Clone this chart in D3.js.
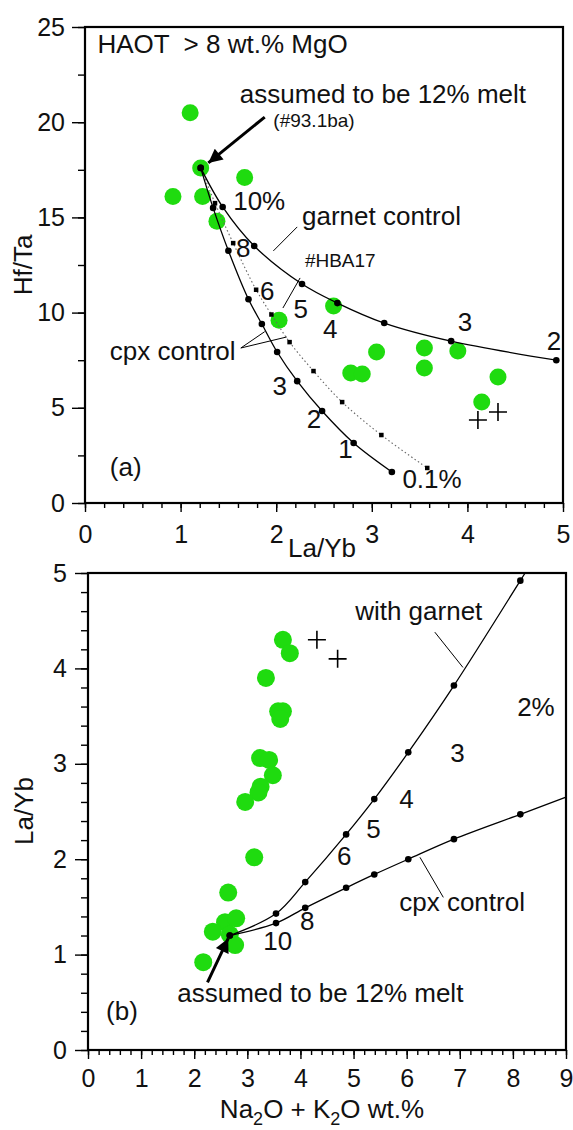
<!DOCTYPE html>
<html>
<head>
<meta charset="utf-8">
<script src="https://cdn.jsdelivr.net/npm/d3@7"></script>
<style>
    body { margin: 0; background: #fff; }
    svg text { font-family: "Liberation Sans", Arial, Helvetica, sans-serif; fill: #111; white-space: pre; }
</style>
</head>
<body>
<div id="chart"></div>
<script>

// (a) Hf/Ta vs La/Yb
var hfTaSamples = [
    [1.10, 20.5], [1.21, 17.6], [1.67, 17.1], [0.92, 16.1], [1.23, 16.1], [1.38, 14.8],
    [2.03, 9.6], [2.60, 10.35], [3.05, 7.93], [2.78, 6.83], [2.90, 6.78],
    [3.55, 8.14], [3.55, 7.09], [3.90, 7.98], [4.32, 6.62], [4.15, 5.3]
];
var hfTaPlus = [[4.11, 4.36], [4.32, 4.78]];

var garnetA = [
    [1.21, 17.6], [1.44, 15.55], [1.77, 13.5], [2.27, 11.5], [2.64, 10.5],
    [3.13, 9.45], [3.83, 8.5], [4.93, 7.5]
];
var cpxA = [
    [1.21, 17.6], [1.34, 15.5], [1.50, 13.25], [1.71, 10.7], [1.85, 9.4],
    [2.01, 7.93], [2.22, 6.4], [2.48, 4.83], [2.81, 3.15], [3.21, 1.63]
];
var cpxDottedA = [
    [1.21, 17.6], [1.36, 15.75], [1.55, 13.65], [1.79, 11.2], [1.95, 9.9],
    [2.14, 8.45], [2.39, 6.93], [2.69, 5.3], [3.10, 3.57], [3.58, 1.84]
];

// (b) La/Yb vs Na2O + K2O
var laYbSamples = [
    [3.67, 4.30], [3.80, 4.16], [3.35, 3.90], [3.58, 3.55], [3.67, 3.55], [3.62, 3.47],
    [3.24, 3.06], [3.41, 3.04], [3.48, 2.88], [3.25, 2.76], [3.21, 2.70], [2.96, 2.60],
    [3.13, 2.02], [2.64, 1.65], [2.58, 1.34], [2.79, 1.38], [2.35, 1.24],
    [2.67, 1.21], [2.77, 1.10], [2.17, 0.92]
];
var laYbPlus = [[4.31, 4.30], [4.70, 4.10]];

var garnetB = [
    [2.67, 1.20], [3.54, 1.43], [4.09, 1.76], [4.86, 2.26], [5.39, 2.63],
    [6.03, 3.12], [6.89, 3.82], [8.14, 4.92]
];
var garnetBEnd = [8.23, 5.0];
var cpxB = [
    [2.67, 1.20], [3.54, 1.33], [4.09, 1.49], [4.86, 1.70], [5.39, 1.84],
    [6.03, 2.00], [6.89, 2.21], [8.14, 2.47]
];
var cpxBEnd = [9.0, 2.65];

var xTicksA = [0, 1, 2, 3, 4, 5];
var yTicksA = [0, 5, 10, 15, 20, 25];
var xTicksB = [0, 1, 2, 3, 4, 5, 6, 7, 8, 9];
var yTicksB = [0, 1, 2, 3, 4, 5];

var green = "#1fdb0f";

var svg = d3.select("#chart")
    .append("svg")
    .attr("width", 573)
    .attr("height", 1130);

var defs = svg.append("defs");
defs.append("marker")
    .attr("id", "arrowhead")
    .attr("viewBox", "0 0 10 10")
    .attr("refX", 10)
    .attr("refY", 5)
    .attr("markerUnits", "userSpaceOnUse")
    .attr("markerWidth", 22)
    .attr("markerHeight", 14)
    .attr("orient", "auto")
    .append("path")
    .attr("d", "M0,0 L10,5 L0,10 Z")
    .attr("fill", "#000");

var xA = d3.scaleLinear().domain([0, 5]).range([85, 563]);
var yA = d3.scaleLinear().domain([0, 25]).range([503, 27]);
var xB = d3.scaleLinear().domain([0, 9]).range([88, 566]);
var yB = d3.scaleLinear().domain([0, 5]).range([1050, 573]);

var line = function(x, y){
    return d3.line()
        .x(function(d){ return x(d[0]); })
        .y(function(d){ return y(d[1]); })
        .curve(d3.curveCatmullRom.alpha(0.5));
};

function drawAxes(g, x, y, xTicks, yTicks, xMinor, yMinor, yPad){
    var xMin = x.domain()[0], xMax = x.domain()[1];
    var yMin = y.domain()[0], yMax = y.domain()[1];

    // minor ticks
    g.append("g")
        .attr("transform", "translate(0," + y(yMin) + ")")
        .call(d3.axisBottom(x).tickValues(d3.range(xMin, xMax + 1e-9, xMinor)).tickSize(5).tickFormat(""))
        .call(function(a){ a.select(".domain").remove(); });
    g.append("g")
        .attr("transform", "translate(" + x(xMin) + ",0)")
        .call(d3.axisLeft(y).tickValues(d3.range(yMin, yMax + 1e-9, yMinor)).tickSize(7).tickFormat(""))
        .call(function(a){ a.select(".domain").remove(); });

    // major ticks
    g.append("g")
        .attr("class", "x-axis")
        .attr("transform", "translate(0," + y(yMin) + ")")
        .call(d3.axisBottom(x).tickValues(xTicks).tickSize(9).tickPadding(xPadFor(y)).tickFormat(d3.format("d")))
        .call(function(a){ a.select(".domain").remove(); });
    g.append("g")
        .attr("class", "y-axis")
        .attr("transform", "translate(" + x(xMin) + ",0)")
        .call(d3.axisLeft(y).tickValues(yTicks).tickSize(13).tickPadding(yPad).tickFormat(d3.format("d")))
        .call(function(a){ a.select(".domain").remove(); });

    g.selectAll(".tick line").attr("stroke", "#000").attr("stroke-width", 1.4);
    g.selectAll(".tick text").attr("font-size", 25).attr("fill", "#111")
        .style("font-family", "'Liberation Sans', Arial, sans-serif");

    g.append("rect")
        .attr("x", x(xMin))
        .attr("y", y(yMax))
        .attr("width", x(xMax) - x(xMin))
        .attr("height", y(yMin) - y(yMax))
        .attr("fill", "none")
        .attr("stroke", "#000")
        .attr("stroke-width", 2.2);
}

function xPadFor(y){
    return y === yA ? 13 : 10;
}

function label(g, x, y, txt, px, py, size, anchor){
    return g.append("text")
        .attr("x", x(px))
        .attr("y", y(py))
        .attr("font-size", size || 26)
        .attr("text-anchor", anchor || "start")
        .text(txt);
}

function leader(g, x, y, p0, p1, width){
    g.append("line")
        .attr("x1", x(p0[0])).attr("y1", y(p0[1]))
        .attr("x2", x(p1[0])).attr("y2", y(p1[1]))
        .attr("stroke", "#000")
        .attr("stroke-width", width || 1);
}

function arrow(g, x, y, p0, p1){
    g.append("line")
        .attr("x1", x(p0[0])).attr("y1", y(p0[1]))
        .attr("x2", x(p1[0])).attr("y2", y(p1[1]))
        .attr("stroke", "#000")
        .attr("stroke-width", 3)
        .attr("marker-end", "url(#arrowhead)");
}

function plus(g, x, y, data){
    var s = 9;
    data.forEach(function(d){
        g.append("path")
            .attr("d", "M" + (x(d[0]) - s) + "," + y(d[1]) + "h" + (2 * s) +
                "M" + x(d[0]) + "," + (y(d[1]) - s) + "v" + (2 * s))
            .attr("stroke", "#000")
            .attr("stroke-width", 1.6)
            .attr("fill", "none");
    });
}

function dots(g, x, y, data, r, fill){
    g.selectAll(null)
        .data(data)
        .enter()
        .append("circle")
        .attr("cx", function(d){ return x(d[0]); })
        .attr("cy", function(d){ return y(d[1]); })
        .attr("r", r)
        .attr("fill", fill);
}

function squares(g, x, y, data, s){
    g.selectAll(null)
        .data(data)
        .enter()
        .append("rect")
        .attr("x", function(d){ return x(d[0]) - s / 2; })
        .attr("y", function(d){ return y(d[1]) - s / 2; })
        .attr("width", s)
        .attr("height", s)
        .attr("fill", "#000");
}


/* ---------- panel (a) ---------- */
var gA = svg.append("g");
drawAxes(gA, xA, yA, xTicksA, yTicksA, 0.2, 2.5, 7);

dots(gA, xA, yA, hfTaSamples, 8.5, green);
plus(gA, xA, yA, hfTaPlus);

gA.append("path")
    .datum(cpxDottedA)
    .attr("d", line(xA, yA))
    .attr("fill", "none")
    .attr("stroke", "#666")
    .attr("stroke-width", 1.1)
    .attr("stroke-dasharray", "1.5,2.5");
squares(gA, xA, yA, cpxDottedA.slice(1), 4.5);

[garnetA, cpxA].forEach(function(c){
    gA.append("path")
        .datum(c)
        .attr("d", line(xA, yA))
        .attr("fill", "none")
        .attr("stroke", "#000")
        .attr("stroke-width", 1.3);
    dots(gA, xA, yA, c, 3.3, "#000");
});

label(gA, xA, yA, "HAOT  > 8 wt.% MgO", 0.13, 23.63);
label(gA, xA, yA, "assumed to be 12% melt", 1.62, 21.0);
label(gA, xA, yA, "(#93.1ba)", 1.97, 19.75, 19);
arrow(gA, xA, yA, [1.88, 20.27], [1.29, 17.86]);

label(gA, xA, yA, "10%", 1.55, 15.39);
label(gA, xA, yA, "8", 1.58, 12.92);
label(gA, xA, yA, "6", 1.83, 10.66);
label(gA, xA, yA, "5", 2.18, 9.72);
label(gA, xA, yA, "4", 2.49, 8.67);
label(gA, xA, yA, "3", 3.90, 9.03);
label(gA, xA, yA, "2", 4.83, 8.04);
label(gA, xA, yA, "3", 1.96, 5.67);
label(gA, xA, yA, "2", 2.32, 3.94);
label(gA, xA, yA, "1", 2.65, 2.36);
label(gA, xA, yA, "0.1%", 3.32, 0.79);

label(gA, xA, yA, "garnet control", 2.27, 14.6);
leader(gA, xA, yA, [1.97, 13.24], [2.22, 14.5]);
label(gA, xA, yA, "#HBA17", 2.30, 12.4, 19);
leader(gA, xA, yA, [2.25, 11.82], [2.07, 10.24]);
label(gA, xA, yA, "cpx control", 0.26, 7.51);
leader(gA, xA, yA, [1.63, 8.14], [1.88, 9.0]);
leader(gA, xA, yA, [1.63, 8.14], [2.11, 8.72]);
label(gA, xA, yA, "(a)", 0.26, 1.42);

svg.append("text")
    .attr("transform", "translate(32,265) rotate(-90)")
    .attr("text-anchor", "middle")
    .attr("font-size", 26)
    .text("Hf/Ta");
svg.append("text")
    .attr("x", 322)
    .attr("y", 557)
    .attr("text-anchor", "middle")
    .attr("font-size", 26)
    .text("La/Yb");


/* ---------- panel (b) ---------- */
var gB = svg.append("g");
drawAxes(gB, xB, yB, xTicksB, yTicksB, 0.2, 0.2, 8);

dots(gB, xB, yB, laYbSamples, 9, green);
plus(gB, xB, yB, laYbPlus);

[[garnetB, garnetBEnd], [cpxB, cpxBEnd]].forEach(function(c){
    gB.append("path")
        .datum(c[0].concat([c[1]]))
        .attr("d", line(xB, yB))
        .attr("fill", "none")
        .attr("stroke", "#000")
        .attr("stroke-width", 1.3);
    dots(gB, xB, yB, c[0], 3.3, "#000");
});

label(gB, xB, yB, "with garnet", 5.03, 4.51);
leader(gB, xB, yB, [6.53, 4.38], [7.06, 4.01]);
label(gB, xB, yB, "2%", 8.08, 3.50);
label(gB, xB, yB, "3", 6.82, 3.02);
label(gB, xB, yB, "4", 5.86, 2.54);
label(gB, xB, yB, "5", 5.24, 2.22);
label(gB, xB, yB, "6", 4.69, 1.94);
label(gB, xB, yB, "8", 3.99, 1.26);
label(gB, xB, yB, "10", 3.30, 1.05);
label(gB, xB, yB, "cpx control", 5.86, 1.46);
leader(gB, xB, yB, [6.25, 2.02], [6.69, 1.60]);
label(gB, xB, yB, "assumed to be 12% melt", 1.68, 0.50);
arrow(gB, xB, yB, [2.25, 0.71], [2.64, 1.17]);
label(gB, xB, yB, "(b)", 0.34, 0.31);

svg.append("text")
    .attr("transform", "translate(33,811) rotate(-90)")
    .attr("text-anchor", "middle")
    .attr("font-size", 26)
    .text("La/Yb");

var xt = svg.append("text")
    .attr("x", 322)
    .attr("y", 1118)
    .attr("text-anchor", "middle")
    .attr("font-size", 26);
xt.append("tspan").text("Na");
xt.append("tspan").attr("dy", 7).attr("font-size", 18).text("2");
xt.append("tspan").attr("dy", -7).text("O + K");
xt.append("tspan").attr("dy", 7).attr("font-size", 18).text("2");
xt.append("tspan").attr("dy", -7).text("O wt.%");

</script>
</body>
</html>
